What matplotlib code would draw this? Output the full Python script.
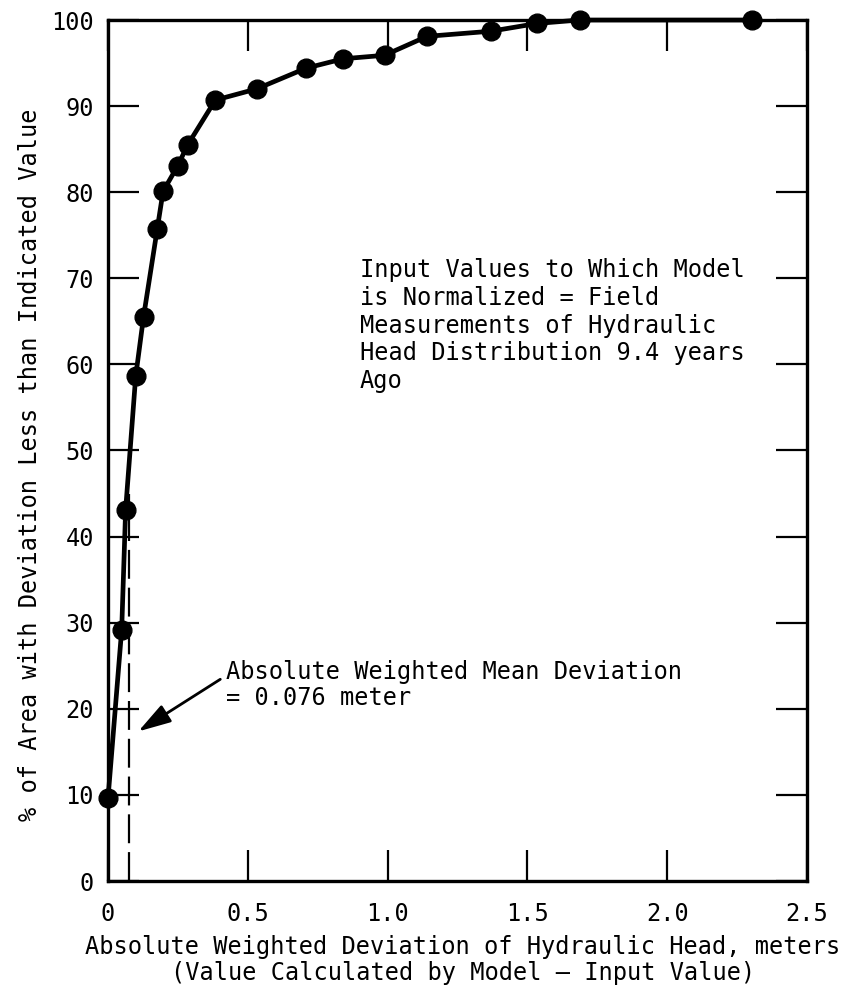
import numpy as np
import matplotlib
matplotlib.use("Agg")
import matplotlib.pyplot as plt

# Values
deviation = [0.0, 0.049, 0.063, 0.099, 0.127, 0.176, 0.197, 0.250, 0.285,
             0.384, 0.532, 0.708, 0.842, 0.989, 1.141, 1.370, 1.535, 1.687, 2.303]
pct_area = [9.6, 29.2, 43.1, 58.6, 65.5, 75.7, 80.1, 83.1, 85.5,
            90.7, 92.0, 94.4, 95.5, 95.9, 98.1, 98.7, 99.6, 100.0, 100.0]

mean_dev = 0.076
x_ticks = [0, 0.5, 1.0, 1.5, 2.0, 2.5]
x_ticklabels = ["0", "0.5", "1.0", "1.5", "2.0", "2.5"]
y_ticks = list(range(0, 101, 10))

plt.rcParams['font.family'] = ['DejaVu Sans Mono']

W, H = 849, 996
fig = plt.figure(figsize=(W / 100, H / 100), dpi=100)
ax = fig.add_axes([108 / W, 1 - 881 / H, 699 / W, 861 / H])

# curve
ax.plot(deviation, pct_area, color="black", lw=3.4, marker="o",
        markersize=13.5, zorder=3, clip_on=False)

# mean deviation marker line
ax.plot([mean_dev, mean_dev], [0, 45], color="black", lw=1.6,
        linestyle=(0, (13, 4)), zorder=2)

ax.annotate("", xy=(0.10, 17.2), xytext=(0.41, 23.6),
            arrowprops=dict(arrowstyle="-|>,head_length=2.0,head_width=0.6",
                            color="black", lw=2))

ax.text((226 - 108) / 699, (881 - 660) / 861,
        "Absolute Weighted Mean Deviation\n= 0.076 meter",
        transform=ax.transAxes, fontsize=17, va="top", ha="left",
        linespacing=1.1)

ax.text((360 - 108) / 699, (881 - 258) / 861,
        "Input Values to Which Model\nis Normalized = Field\n"
        "Measurements of Hydraulic\nHead Distribution 9.4 years\nAgo",
        transform=ax.transAxes, fontsize=17, va="top", ha="left",
        linespacing=1.2)

ax.set_xlim(0, 2.5)
ax.set_ylim(0, 100)
ax.set_xticks(x_ticks)
ax.set_xticklabels(x_ticklabels)
ax.set_yticks(y_ticks)
ax.tick_params(direction="in", length=22, width=1.6, labelsize=17,
               top=True, right=True, pad=10)
ax.tick_params(axis="x", pad=15)
for s in ax.spines.values():
    s.set_linewidth(2.4)

fig.text(463 / W, 1 - 935 / H,
         "Absolute Weighted Deviation of Hydraulic Head, meters\n"
         "(Value Calculated by Model \u2014 Input Value)",
         ha="center", va="top", multialignment="center", fontsize=17,
         linespacing=1.12)
fig.text(30 / W, 1 - 465 / H,
         "% of Area with Deviation Less than Indicated Value",
         rotation=90, ha="center", va="center", fontsize=17)

fig.savefig("out.png", dpi=100)
